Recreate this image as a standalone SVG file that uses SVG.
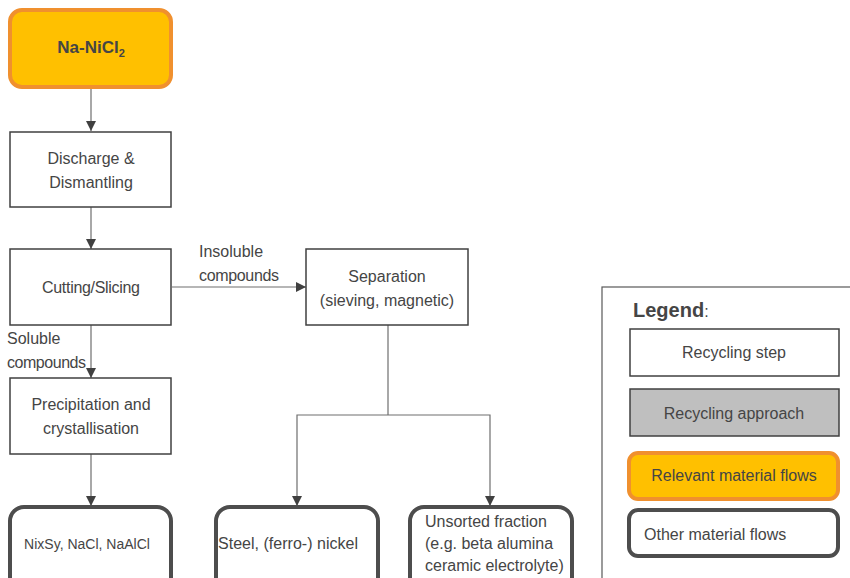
<svg xmlns="http://www.w3.org/2000/svg" width="850" height="578" viewBox="0 0 850 578">
  <defs>
    <marker id="arrow" viewBox="0 0 10 10" refX="10" refY="5" markerWidth="10" markerHeight="10" markerUnits="userSpaceOnUse" orient="auto">
      <path d="M0,0 L10,5 L0,10 Z" fill="#404040"/>
    </marker>
  </defs>
  <style>
    text { font-family: "Liberation Sans", Arial, sans-serif; font-size: 16px; fill: #454545; }
    .c { text-anchor: middle; }
    .small { font-size: 14px; }
    .title { font-size: 17px; font-weight: bold; }
    .sub { font-size: 11px; }
    .legend-title { font-size: 20px; font-weight: bold; }
    .plain { font-size: 16px; font-weight: normal; }
    .step { fill: #ffffff; stroke: #404040; stroke-width: 1.5; }
    .approach { fill: #bfbfbf; stroke: #404040; stroke-width: 1.5; }
    .relevant { fill: #ffc000; stroke: #f0902e; stroke-width: 4; }
    .other { fill: #ffffff; stroke: #4d4d4d; stroke-width: 4; }
    .link { fill: none; stroke: #6e6e6e; stroke-width: 1.2; }
    .arrow { marker-end: url(#arrow); }
  </style>
  <rect width="850" height="578" fill="#ffffff"/>

  <!-- connectors -->
  <g id="connectors">
    <line class="link arrow" x1="91" y1="88" x2="91" y2="131"/>
    <line class="link arrow" x1="91" y1="207" x2="91" y2="249"/>
    <line class="link arrow" x1="172" y1="287" x2="306" y2="287"/>
    <line class="link arrow" x1="91" y1="325" x2="91" y2="378"/>
    <line class="link arrow" x1="91" y1="454" x2="91" y2="506"/>
    <polyline class="link" points="388,325 388,415"/>
    <polyline class="link arrow" points="388,415 297,415 297,506"/>
    <polyline class="link arrow" points="388,415 490,415 490,506"/>
    <text x="199" y="257">Insoluble</text>
    <text x="199" y="281" textLength="80">compounds</text>
    <text x="7" y="344">Soluble</text>
    <text x="7" y="368" textLength="79">compounds</text>
  </g>

  <!-- battery input -->
  <g id="na-nicl2">
    <rect class="relevant" x="10" y="10" width="161" height="77" rx="12"/>
    <text class="c title" x="91" y="53">Na-NiCl<tspan class="sub" dy="4">2</tspan></text>
  </g>

  <!-- recycling steps -->
  <g id="discharge">
    <rect class="step" x="10" y="132" width="161" height="75"/>
    <text class="c" x="91" y="164">Discharge &amp;</text>
    <text class="c" x="91" y="188">Dismantling</text>
  </g>
  <g id="cutting">
    <rect class="step" x="10" y="249" width="161" height="76"/>
    <text class="c" x="91" y="293" textLength="98">Cutting/Slicing</text>
  </g>
  <g id="precipitation">
    <rect class="step" x="10" y="378" width="161" height="76"/>
    <text class="c" x="91" y="410">Precipitation and</text>
    <text class="c" x="91" y="434">crystallisation</text>
  </g>
  <g id="separation">
    <rect class="step" x="306" y="249" width="162" height="76"/>
    <text class="c" x="387" y="282">Separation</text>
    <text class="c" x="387" y="306">(sieving, magnetic)</text>
  </g>

  <!-- output fractions -->
  <g id="salts">
    <rect class="other" x="10" y="507" width="161" height="90" rx="14"/>
    <text class="c small" x="87" y="549">NixSy, NaCl, NaAlCl</text>
  </g>
  <g id="steel">
    <rect class="other" x="216" y="507" width="162" height="90" rx="14"/>
    <text x="218" y="549" textLength="140">Steel, (ferro-) nickel</text>
  </g>
  <g id="unsorted">
    <rect class="other" x="410" y="507" width="162" height="90" rx="14"/>
    <text x="425" y="527">Unsorted fraction</text>
    <text x="425" y="549">(e.g. beta alumina</text>
    <text x="425" y="571">ceramic electrolyte)</text>
  </g>

  <!-- legend -->
  <g id="legend">
    <rect x="602" y="287" width="260" height="300" fill="#ffffff" stroke="#595959" stroke-width="1.2"/>
    <text class="legend-title" x="633" y="317">Legend<tspan class="plain">:</tspan></text>
    <rect class="step" x="630" y="329" width="209" height="47"/>
    <text class="c" x="734" y="358">Recycling step</text>
    <rect class="approach" x="630" y="389" width="209" height="47"/>
    <text class="c" x="734" y="419">Recycling approach</text>
    <rect class="relevant" x="629" y="453" width="209" height="46" rx="9"/>
    <text class="c" x="734" y="481">Relevant material flows</text>
    <rect class="other" x="629" y="510" width="209" height="46" rx="9"/>
    <text x="644" y="540">Other material flows</text>
  </g>
</svg>
